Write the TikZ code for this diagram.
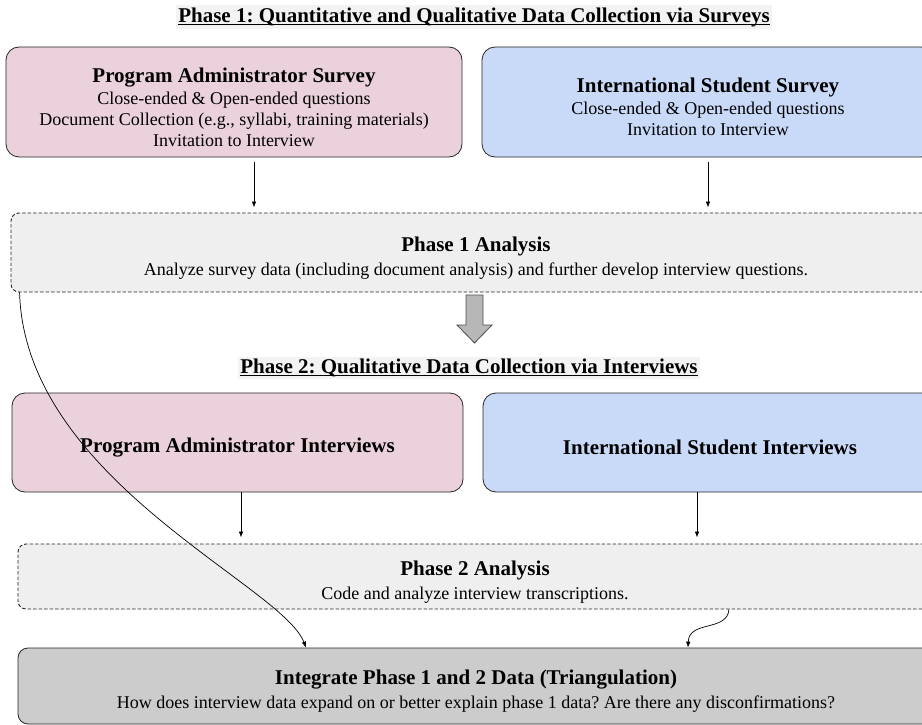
\documentclass[tikz,border=0pt]{standalone}
\usepackage{fontspec}
\setmainfont{Liberation Serif}
\usepackage{xcolor}
\usetikzlibrary{arrows.meta,positioning}
\frenchspacing

\definecolor{adminpink}{HTML}{EAD1DC}
\definecolor{studentblue}{HTML}{C9DAF8}
\definecolor{analysisgray}{HTML}{EFEFEF}
\definecolor{integgray}{HTML}{CCCCCC}
\definecolor{bigarrowgray}{HTML}{B7B7B7}
\definecolor{titlebg}{HTML}{F3F3F3}

% bold heading line of a box (the strut pushes the text block a little down)
\newcommand{\headline}[1]{\rule{0pt}{25pt}{\fontsize{21}{23}\selectfont\bfseries #1}}

\begin{document}
\begin{tikzpicture}[x=1pt, y=-1pt,
    box/.style={draw=black!85, line width=0.8pt, rounded corners=13pt, align=center, inner sep=0pt, font=\fontsize{18}{21}\selectfont},
    dashbox/.style={box, dash pattern=on 3.5pt off 2pt, line width=0.9pt, rounded corners=8pt, fill=analysisgray},
    phasetitle/.style={fill=titlebg, inner sep=2pt, font=\fontsize{21}{23}\selectfont\bfseries},
    underl/.style={line width=1pt, shorten <=2pt, shorten >=2pt},
    arr/.style={-{Latex[length=6pt,width=4.5pt]}, line width=0.7pt}]
    \useasboundingbox (0,0) rectangle (922,725);

    % Phase 1: surveys
    \node[phasetitle] (title1) at (474,17) {Phase 1: Quantitative and Qualitative Data Collection via Surveys};
    \draw[underl] ([yshift=-2pt]title1.base west) -- ([yshift=-2pt]title1.base east);
    \node[box, fill=adminpink, minimum width=456pt, minimum height=110pt] (pas) at (234,102) {\headline{Program Administrator Survey}\\[1pt] Close-ended \& Open-ended questions\\ Document Collection (e.g., syllabi, training materials)\\ Invitation to Interview};
    \node[box, fill=studentblue, minimum width=452pt, minimum height=110pt] (iss) at (708,102) {\headline{International Student Survey}\\[1pt] Close-ended \& Open-ended questions\\ Invitation to Interview};
    \node[dashbox, minimum width=930pt, minimum height=79pt] (p1a) at (476,252.5) {\headline{Phase 1 Analysis}\\[3pt] Analyze survey data (including document analysis) and further develop interview questions.};

    \draw[arr, shorten <=5pt, shorten >=5pt] ([xshift=20pt]pas.south) -- ([xshift=20pt]pas.south |- p1a.north);
    \draw[arr, shorten <=5pt, shorten >=5pt] (iss.south) -- (iss.south |- p1a.north);

    % big arrow between the phases
    \draw[draw=black!70, fill=bigarrowgray, line width=0.8pt] (466,295) -- (483,295) -- (483,325) -- (492,325) -- (474.5,343) -- (457,325) -- (466,325) -- cycle;

    % Phase 2: interviews
    \node[phasetitle] (title2) at (469,368) {Phase 2: Qualitative Data Collection via Interviews};
    \draw[underl] ([yshift=-2pt]title2.base west) -- ([yshift=-2pt]title2.base east);
    \node[box, fill=adminpink, minimum width=451pt, minimum height=99pt] (pai) at (237.5,442.5) {\headline{Program Administrator Interviews}};
    \node[box, fill=studentblue, minimum width=454pt, minimum height=99pt] (isi) at (710,442.5) {\headline{International Student Interviews}};
    \node[dashbox, minimum width=914pt, minimum height=65pt] (p2a) at (475,576.5) {\headline{Phase 2 Analysis}\\[3pt] Code and analyze interview transcriptions.};

    \draw[arr, shorten >=6pt] ([xshift=3.5pt]pai.south) -- ([xshift=3.5pt]pai.south |- p2a.north);
    \draw[arr, shorten >=6pt] ([xshift=-13pt]isi.south) -- ([xshift=-13pt]isi.south |- p2a.north);

    % integration
    \node[box, fill=integgray, rounded corners=10pt, minimum width=916pt, minimum height=76pt] (integ) at (476,686) {\headline{Integrate Phase 1 and 2 Data (Triangulation)}\\[3pt] How does interview data expand on or better explain phase 1 data? Are there any disconfirmations?};

    \draw[arr] ([xshift=9pt]p1a.south west) .. controls (25,480) and (282,585) .. ([xshift=-170pt]integ.north);
    \draw[arr] ([xshift=254pt]p2a.south) .. controls (727,632) and (689,620) .. ([xshift=212pt]integ.north);
\end{tikzpicture}
\end{document}
